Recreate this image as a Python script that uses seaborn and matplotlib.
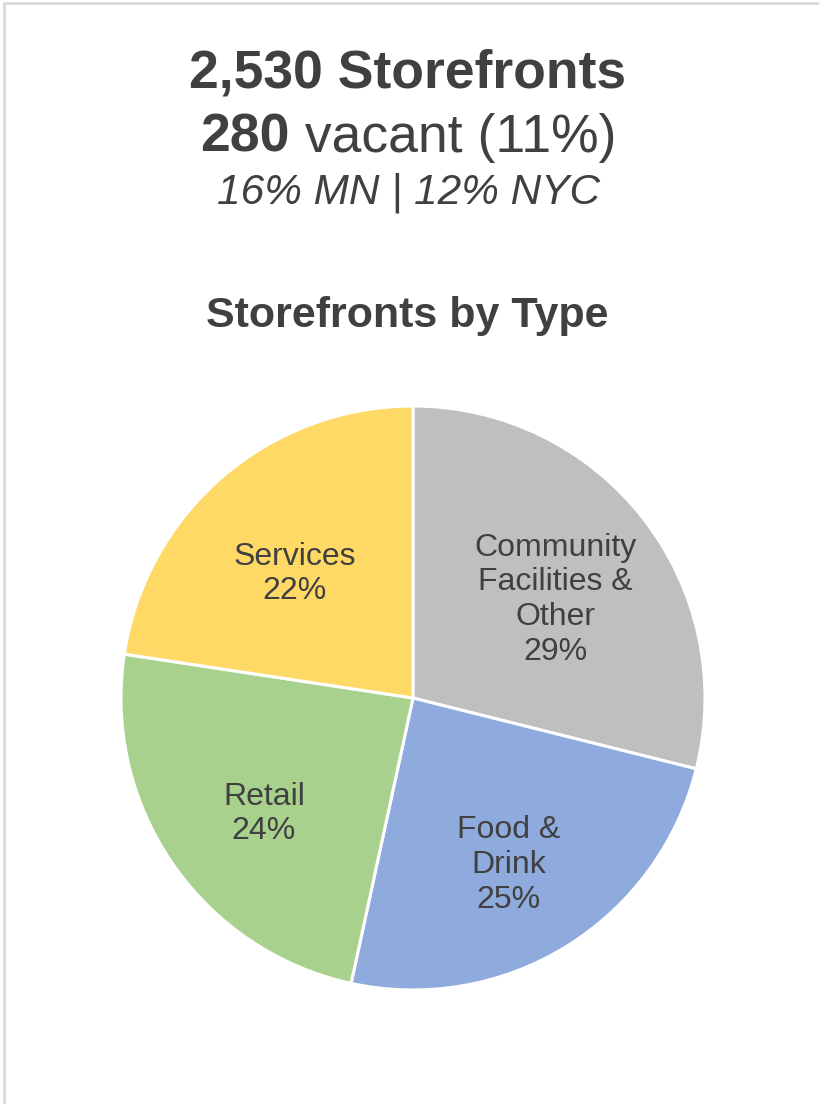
import matplotlib
matplotlib.use('Agg')
import matplotlib.pyplot as plt
import seaborn as sns

# data
categories = ['Community\nFacilities &\nOther', 'Food &\nDrink', 'Retail', 'Services']
shares = [28.9, 24.5, 24.0, 22.6]          # slice sizes
pct_labels = ['29%', '25%', '24%', '22%']  # percentages as printed
slice_colors = ['#BFBFBF', '#8FAADC', '#A9D18E', '#FFD966']

total_storefronts = '2,530'
vacant_count = '280'
vacant_pct = '11%'
compare_text = '16% MN | 12% NYC'
chart_title = 'Storefronts by Type'

sns.set_theme(style='white')
plt.rcParams['font.family'] = ['Liberation Sans', 'DejaVu Sans']
text_color = '#404040'

fig = plt.figure(figsize=(8.19, 11.04), dpi=100)
fig.patch.set_facecolor('white')

# light frame on top and left edges
fig.add_artist(plt.Line2D([4 / 819, 4 / 819], [0, 1 - 3 / 1104], transform=fig.transFigure,
                          color='#D9D9D9', lw=2))
fig.add_artist(plt.Line2D([4 / 819, 1], [1 - 3 / 1104, 1 - 3 / 1104], transform=fig.transFigure,
                          color='#D9D9D9', lw=2))

# header
fig.text(0.498, 1 - 87 / 1104, total_storefronts + ' Storefronts', ha='center', va='baseline',
         fontsize=38.5, fontweight='bold', color=text_color)
fig.text(290 / 819, 1 - 152 / 1104, vacant_count, ha='right', va='baseline',
         fontsize=38.5, fontweight='bold', color=text_color)
fig.text(290 / 819, 1 - 152 / 1104, ' vacant (' + vacant_pct + ')', ha='left', va='baseline',
         fontsize=38.5, color=text_color)
fig.text(0.499, 1 - 204 / 1104, compare_text, ha='center', va='baseline',
         fontsize=30.5, style='italic', color=text_color)
fig.text(0.497, 1 - 327 / 1104, chart_title, ha='center', va='baseline',
         fontsize=31, fontweight='bold', color=text_color)

# pie
r_px = 292
cx, cy = 413, 698
ax = fig.add_axes([(cx - r_px) / 819, (1104 - cy - r_px) / 1104, 2 * r_px / 819, 2 * r_px / 1104])
labels = [f'{c}\n{p}' for c, p in zip(categories, pct_labels)]
wedges, texts = ax.pie(shares, labels=labels, colors=slice_colors, startangle=90,
                       counterclock=False, labeldistance=0.62,
                       wedgeprops=dict(edgecolor='white', linewidth=2.2),
                       textprops=dict(fontsize=23, color=text_color))
for t in texts:
    t.set_horizontalalignment('center')
    t.set_verticalalignment('center')
    t.set_multialignment('center')
    x, y = t.get_position()
    t.set_position((x, y - 0.045))
ax.set_xlim(-1, 1)
ax.set_ylim(-1, 1)
ax.set_aspect('auto')
ax.axis('off')

fig.savefig('out.png', dpi=100, facecolor='white')
